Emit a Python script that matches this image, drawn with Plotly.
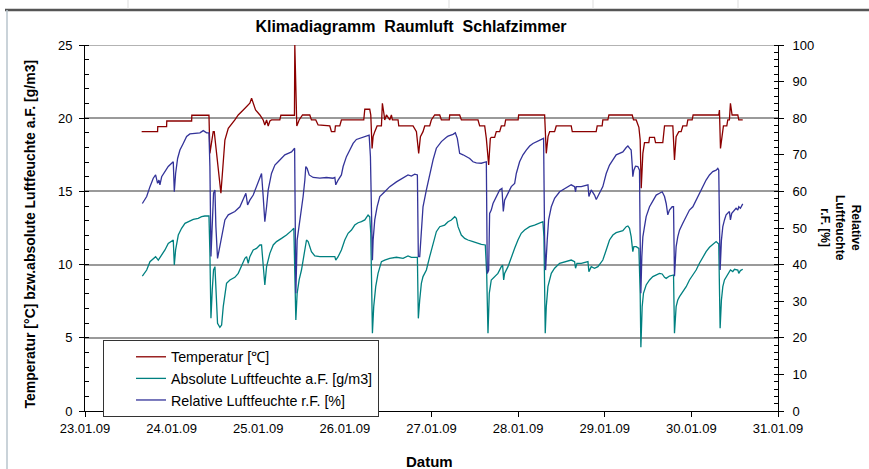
import numpy as np
import pandas as pd
import plotly.graph_objects as go

# ---------------- data (time = day of January 2009, decimal) ----------------
temp_t = [23.654, 23.838, 23.840, 23.942, 23.944, 24.231, 24.233, 24.431, 24.442, 24.480, 24.492, 24.569,
          24.615, 24.654, 24.730, 24.769, 24.827, 24.865, 24.903, 24.923, 24.942, 24.969, 25.019, 25.057,
          25.076, 25.096, 25.115, 25.134, 25.153, 25.249, 25.261, 25.418, 25.422, 25.445, 25.472, 25.511,
          25.595, 25.614, 25.664, 25.691, 25.826, 25.845, 25.884, 25.891, 25.941, 25.960, 26.218, 26.230,
          26.287, 26.299, 26.314, 26.326, 26.345, 26.372, 26.422, 26.433, 26.453, 26.460, 26.480, 26.518,
          26.537, 26.549, 26.614, 26.622, 26.787, 26.826, 26.852, 26.872, 26.902, 26.922, 26.979, 26.998,
          27.037, 27.095, 27.114, 27.205, 27.210, 27.325, 27.345, 27.537, 27.556, 27.614, 27.633, 27.644,
          27.660, 27.679, 27.690, 27.729, 27.748, 27.787, 27.806, 27.844, 27.856, 28.000, 28.006, 28.306,
          28.314, 28.325, 28.345, 28.364, 28.421, 28.440, 28.613, 28.625, 28.901, 28.913, 28.970, 28.978,
          29.036, 29.048, 29.317, 29.332, 29.363, 29.382, 29.394, 29.409, 29.421, 29.440, 29.459, 29.509,
          29.517, 29.574, 29.586, 29.670, 29.682, 29.690, 29.786, 29.805, 29.824, 29.855, 29.882, 29.901,
          29.947, 29.959, 30.009, 30.020, 30.316, 30.324, 30.336, 30.355, 30.370, 30.409, 30.420, 30.439,
          30.451, 30.470, 30.536, 30.547, 30.593]
temp_v = [19.08, 19.08, 19.42, 19.42, 19.81, 19.81, 20.20, 20.20, 17.60, 19.08, 19.08, 14.87,
          18.51, 19.31, 19.88, 20.22, 20.56, 20.79, 21.02, 21.36, 20.97, 20.56, 20.22, 19.88,
          19.54, 19.88, 19.47, 19.81, 19.88, 19.88, 20.20, 20.20, 25.00, 19.47, 19.88, 20.22,
          20.22, 19.88, 19.88, 19.54, 19.47, 19.08, 19.08, 19.47, 19.47, 19.88, 19.88, 20.61,
          20.61, 20.22, 17.94, 18.74, 19.08, 19.47, 19.47, 21.02, 20.22, 19.88, 20.22, 19.88,
          20.22, 19.88, 19.88, 19.47, 19.47, 19.08, 17.60, 18.74, 19.08, 19.47, 19.47, 19.88,
          20.22, 20.22, 19.88, 19.88, 20.22, 20.22, 19.88, 19.88, 19.47, 19.47, 18.62, 17.60,
          16.80, 18.62, 18.69, 18.69, 19.08, 19.08, 19.47, 19.47, 19.88, 19.88, 20.22, 20.22,
          18.51, 17.60, 18.74, 19.08, 19.08, 19.47, 19.47, 19.08, 19.08, 19.47, 19.47, 19.88,
          19.88, 20.22, 20.22, 19.88, 19.88, 19.47, 19.38, 18.51, 15.21, 17.60, 18.33, 18.33,
          18.69, 18.69, 18.33, 18.33, 19.08, 19.47, 19.47, 17.14, 18.74, 19.08, 19.08, 19.47,
          19.47, 19.88, 19.88, 20.22, 20.22, 20.56, 17.94, 19.08, 19.47, 19.47, 19.88, 19.88,
          21.02, 20.22, 20.22, 19.88, 19.88]

ah_t = [23.662, 23.712, 23.750, 23.788, 23.815, 23.846, 23.885, 23.923, 23.961, 24.000, 24.019, 24.031,
        24.046, 24.077, 24.115, 24.154, 24.192, 24.250, 24.307, 24.346, 24.384, 24.431, 24.442, 24.454,
        24.469, 24.484, 24.500, 24.515, 24.530, 24.557, 24.577, 24.596, 24.615, 24.634, 24.673, 24.730,
        24.769, 24.807, 24.846, 24.865, 24.884, 24.903, 24.942, 24.980, 25.019, 25.038, 25.057, 25.076,
        25.096, 25.134, 25.173, 25.211, 25.269, 25.326, 25.384, 25.411, 25.422, 25.434, 25.449, 25.472,
        25.499, 25.518, 25.538, 25.557, 25.576, 25.595, 25.614, 25.653, 25.711, 25.787, 25.864, 25.884,
        25.895, 25.922, 25.960, 25.999, 26.037, 26.076, 26.114, 26.153, 26.191, 26.230, 26.268, 26.287,
        26.299, 26.318, 26.333, 26.356, 26.383, 26.422, 26.460, 26.518, 26.595, 26.672, 26.729, 26.768,
        26.837, 26.848, 26.864, 26.883, 26.902, 26.941, 26.979, 27.018, 27.056, 27.095, 27.152, 27.191,
        27.229, 27.268, 27.287, 27.306, 27.344, 27.383, 27.421, 27.479, 27.537, 27.575, 27.621, 27.637,
        27.652, 27.667, 27.690, 27.729, 27.767, 27.806, 27.821, 27.833, 27.844, 27.883, 27.921, 27.960,
        27.998, 28.036, 28.075, 28.133, 28.190, 28.248, 28.286, 28.298, 28.313, 28.325, 28.344, 28.383,
        28.421, 28.479, 28.536, 28.613, 28.652, 28.663, 28.679, 28.729, 28.806, 28.817, 28.844, 28.882,
        28.921, 28.978, 29.017, 29.055, 29.094, 29.132, 29.171, 29.209, 29.248, 29.267, 29.286, 29.305,
        29.324, 29.336, 29.363, 29.394, 29.409, 29.417, 29.432, 29.447, 29.478, 29.517, 29.555, 29.594,
        29.632, 29.663, 29.690, 29.709, 29.747, 29.794, 29.805, 29.824, 29.843, 29.863, 29.901, 29.940,
        29.978, 30.017, 30.055, 30.093, 30.132, 30.170, 30.209, 30.247, 30.286, 30.316, 30.324, 30.332,
        30.347, 30.363, 30.382, 30.420, 30.451, 30.478, 30.497, 30.536, 30.547, 30.566, 30.593]
ah_v = [9.22, 9.63, 10.20, 10.43, 10.54, 10.31, 10.66, 11.00, 11.45, 11.57, 11.68, 9.97,
        11.00, 12.02, 12.48, 12.82, 12.93, 13.09, 13.16, 13.27, 13.32, 13.32, 10.77, 6.33,
        8.27, 9.63, 9.86, 8.04, 5.99, 5.72, 5.87, 7.13, 8.04, 8.72, 8.95, 9.13,
        9.40, 9.86, 10.43, 10.54, 10.09, 10.54, 11.00, 11.11, 11.34, 11.34, 9.86, 8.61,
        9.86, 10.77, 11.34, 11.57, 11.79, 12.02, 12.32, 12.48, 9.40, 6.22, 8.04, 8.95,
        9.63, 10.31, 11.23, 11.68, 11.57, 11.23, 10.88, 10.59, 10.54, 10.54, 10.50, 10.54,
        10.31, 10.54, 11.00, 11.68, 12.14, 12.36, 12.70, 12.86, 12.93, 13.05, 13.39, 13.27,
        12.14, 5.31, 7.13, 8.49, 9.40, 10.20, 10.31, 10.43, 10.50, 10.43, 10.59, 10.50,
        10.50, 6.33, 7.58, 8.72, 9.18, 9.63, 10.54, 11.45, 12.25, 12.59, 12.70, 12.93,
        13.05, 13.27, 13.16, 12.59, 12.02, 11.79, 11.68, 11.57, 11.45, 11.38, 11.34, 9.40,
        5.31, 8.04, 8.95, 9.18, 9.40, 9.86, 9.97, 8.95, 9.40, 9.86, 10.54, 11.11,
        11.68, 12.14, 12.36, 12.59, 12.70, 12.82, 12.93, 11.91, 5.31, 7.13, 8.49, 9.40,
        9.75, 10.09, 10.20, 10.31, 10.20, 9.75, 10.09, 10.09, 10.20, 9.52, 9.86, 9.75,
        9.86, 10.31, 11.00, 11.68, 12.02, 12.18, 12.25, 12.32, 12.59, 12.64, 12.48, 11.91,
        10.88, 11.23, 11.23, 11.11, 8.04, 4.35, 7.13, 8.04, 8.61, 8.95, 9.18, 9.29,
        9.40, 9.36, 9.13, 9.06, 9.22, 9.29, 5.31, 7.13, 7.58, 7.81, 8.15, 8.49,
        8.95, 9.29, 9.63, 10.09, 10.54, 10.88, 11.18, 11.38, 11.57, 11.41, 8.27, 5.65,
        7.58, 8.49, 8.95, 9.29, 9.63, 9.52, 9.68, 9.63, 9.40, 9.59, 9.68]

rh_t = [23.662, 23.712, 23.750, 23.788, 23.815, 23.838, 23.854, 23.865, 23.885, 23.923, 23.961, 24.000,
        24.019, 24.031, 24.046, 24.069, 24.096, 24.134, 24.173, 24.211, 24.269, 24.327, 24.365, 24.404,
        24.431, 24.442, 24.454, 24.469, 24.484, 24.500, 24.511, 24.530, 24.557, 24.584, 24.615, 24.654,
        24.730, 24.788, 24.827, 24.857, 24.877, 24.903, 24.942, 24.980, 25.019, 25.038, 25.057, 25.076,
        25.096, 25.115, 25.153, 25.192, 25.230, 25.269, 25.307, 25.346, 25.384, 25.420, 25.434, 25.449,
        25.472, 25.499, 25.518, 25.538, 25.549, 25.564, 25.588, 25.634, 25.711, 25.787, 25.864, 25.884,
        25.895, 25.922, 25.960, 25.980, 26.018, 26.057, 26.095, 26.133, 26.172, 26.210, 26.249, 26.280,
        26.295, 26.306, 26.318, 26.326, 26.345, 26.372, 26.403, 26.460, 26.518, 26.595, 26.672, 26.729,
        26.768, 26.806, 26.837, 26.848, 26.864, 26.883, 26.902, 26.941, 26.979, 27.018, 27.056, 27.114,
        27.172, 27.191, 27.248, 27.275, 27.298, 27.314, 27.325, 27.364, 27.402, 27.441, 27.479, 27.517,
        27.575, 27.633, 27.644, 27.660, 27.671, 27.690, 27.710, 27.748, 27.787, 27.813, 27.829, 27.844,
        27.883, 27.921, 27.960, 27.979, 28.017, 28.056, 28.094, 28.133, 28.171, 28.210, 28.248, 28.294,
        28.306, 28.317, 28.336, 28.352, 28.383, 28.421, 28.479, 28.536, 28.613, 28.652, 28.663, 28.671,
        28.729, 28.806, 28.817, 28.844, 28.882, 28.902, 28.921, 28.978, 29.017, 29.055, 29.094, 29.132,
        29.171, 29.209, 29.248, 29.267, 29.286, 29.305, 29.317, 29.324, 29.336, 29.355, 29.382, 29.401,
        29.409, 29.417, 29.428, 29.440, 29.459, 29.478, 29.517, 29.555, 29.594, 29.632, 29.663, 29.690,
        29.709, 29.728, 29.747, 29.778, 29.794, 29.805, 29.824, 29.843, 29.863, 29.901, 29.940, 29.978,
        30.017, 30.055, 30.093, 30.132, 30.170, 30.209, 30.247, 30.286, 30.305, 30.316, 30.324, 30.332,
        30.347, 30.363, 30.382, 30.401, 30.439, 30.451, 30.466, 30.497, 30.516, 30.536, 30.547, 30.566,
        30.586, 30.593]
rh_v = [56.7, 58.6, 61.3, 63.6, 64.5, 62.2, 63.1, 61.8, 64.0, 65.4, 66.8, 67.7,
        68.1, 59.9, 64.9, 69.0, 71.3, 73.1, 75.0, 75.7, 75.9, 76.0, 76.6, 76.0,
        76.0, 66.8, 42.2, 54.0, 59.5, 60.4, 50.4, 41.7, 44.9, 48.6, 52.2, 53.6,
        54.5, 55.8, 58.1, 59.5, 56.3, 57.6, 59.0, 61.3, 64.0, 64.9, 58.6, 51.7,
        55.8, 60.4, 64.9, 67.2, 68.1, 69.0, 70.0, 70.4, 70.8, 71.8, 32.2, 46.7,
        50.4, 54.9, 58.6, 63.1, 66.8, 66.3, 64.5, 63.8, 63.6, 63.8, 63.6, 63.8,
        61.8, 63.1, 64.5, 66.8, 69.5, 71.3, 73.1, 74.2, 74.5, 75.0, 75.1, 75.4,
        69.5, 48.6, 41.2, 46.7, 52.2, 55.8, 58.6, 59.9, 61.3, 62.6, 63.6, 64.5,
        64.2, 64.7, 64.5, 42.2, 42.2, 48.6, 55.8, 60.4, 64.9, 68.6, 71.8, 73.6,
        74.8, 75.1, 75.6, 76.0, 74.5, 72.2, 70.4, 70.0, 69.5, 69.0, 68.1, 67.8,
        67.7, 68.1, 37.6, 38.5, 54.0, 54.9, 56.7, 58.6, 60.4, 60.8, 54.5, 57.6,
        59.5, 61.3, 62.2, 64.9, 68.1, 70.0, 71.3, 72.4, 73.1, 73.6, 74.0, 74.5,
        46.7, 38.5, 46.7, 52.2, 55.8, 58.1, 59.9, 60.8, 61.8, 61.3, 59.9, 61.3,
        61.3, 61.8, 58.6, 60.4, 59.0, 57.8, 58.6, 61.3, 64.9, 67.2, 68.6, 70.0,
        70.4, 70.8, 72.0, 72.4, 71.8, 71.3, 67.2, 64.0, 65.8, 66.9, 66.8, 65.8,
        46.7, 32.2, 42.2, 47.6, 50.4, 53.1, 55.8, 57.6, 59.0, 59.5, 59.9, 58.6,
        56.7, 53.6, 54.9, 55.8, 55.8, 36.8, 44.9, 47.6, 49.4, 51.3, 53.1, 54.9,
        55.8, 57.6, 59.5, 61.3, 63.1, 64.5, 65.4, 65.8, 66.3, 65.8, 51.3, 38.5,
        46.7, 50.4, 52.2, 53.6, 54.5, 52.2, 54.0, 54.9, 55.4, 54.9, 55.8, 55.4,
        56.3, 56.6]

names = ["Temperatur [℃]", "Absolute Luftfeuchte a.F. [g/m3]", "Relative Luftfeuchte r.F. [%]"]
colors = ["#8B0000", "#008080", "#333399"]
x_ticks = ["2009-01-%02d" % d for d in range(23, 32)]


def to_time(days):
    return pd.Timestamp("2009-01-01") + pd.to_timedelta(np.array(days) - 1.0, unit="D")


FONT = "Liberation Sans, Arial, sans-serif"

fig = go.Figure()
fig.add_trace(go.Scatter(x=to_time(temp_t), y=temp_v, mode="lines", name=names[0],
                         line=dict(color=colors[0], width=1.3), yaxis="y"))
fig.add_trace(go.Scatter(x=to_time(ah_t), y=ah_v, mode="lines", name=names[1],
                         line=dict(color=colors[1], width=1.3), yaxis="y"))
fig.add_trace(go.Scatter(x=to_time(rh_t), y=rh_v, mode="lines", name=names[2],
                         line=dict(color=colors[2], width=1.3), yaxis="y2"))

# pixel helpers for plot area (l=85, r=778, t=45, b=411)
L, R, T, B = 85, 778, 45, 411
def px(x):
    return (x - L) / (R - L)
def py(y):
    return (B - y) / (B - T)

fig.update_layout(
    width=869, height=469,
    margin=dict(l=L, r=869 - R, t=T, b=469 - B),
    paper_bgcolor="white", plot_bgcolor="white",
    font=dict(family=FONT, size=13, color="black"),
    title=dict(text="<b>Klimadiagramm\u00a0 Raumluft\u00a0 Schlafzimmer</b>",
               x=411 / 869, xref="container", xanchor="center",
               y=1 - 26 / 469, yref="container", yanchor="middle",
               font=dict(family=FONT, size=16, color="black")),
    xaxis=dict(type="date", range=[x_ticks[0], x_ticks[-1]],
               tickvals=x_ticks, tickformat="%d.%m.%y",
               showgrid=False, zeroline=False,
               showline=True, linecolor="black", linewidth=1,
               ticks="outside", ticklen=5, tickcolor="black",
               tickfont=dict(family=FONT, size=13, color="black")),
    yaxis=dict(range=[0, 25], dtick=5, showgrid=True, gridcolor="#9a9a9a", gridwidth=1.5,
               zeroline=False, showline=True, linecolor="black", linewidth=1,
               ticks="outside", ticklen=5, tickcolor="black", ticklabelstandoff=4,
               minor=dict(dtick=1, ticks="inside", ticklen=4, tickcolor="black", showgrid=False),
               tickfont=dict(family=FONT, size=13, color="black")),
    yaxis2=dict(range=[0, 100], dtick=10, overlaying="y", side="right",
                showgrid=False, zeroline=False, showline=True, linecolor="black", linewidth=1,
                ticks="outside", ticklen=5, tickcolor="black", ticklabelstandoff=6,
                minor=dict(dtick=2, ticks="inside", ticklen=4, tickcolor="black", showgrid=False),
                tickfont=dict(family=FONT, size=13, color="black")),
    legend=dict(x=px(103), y=py(340), xanchor="left", yanchor="top",
                bgcolor="white", bordercolor="#333333", borderwidth=1,
                font=dict(family=FONT, size=14.3, color="black"),
                indentation=27, tracegroupgap=0),
    showlegend=True,
)

annotations = [
    dict(text="<b>Temperatur [°C] bzw.absolute Luftfeuchte a.F. [g/m3]</b>",
         x=px(29), y=py(234.5), xref="paper", yref="paper", showarrow=False,
         textangle=-90, xanchor="center", yanchor="middle",
         font=dict(family=FONT, size=14, color="black")),
    dict(text="<b>Relative<br>Luftfeuchte<br>r.F. [%]</b>",
         x=px(841), y=py(228), xref="paper", yref="paper", showarrow=False,
         textangle=90, xanchor="center", yanchor="middle",
         font=dict(family=FONT, size=12, color="black")),
    dict(text="<b>Datum</b>", x=px(429), y=py(461), xref="paper", yref="paper",
         showarrow=False, xanchor="center", yanchor="middle",
         font=dict(family=FONT, size=15, color="black")),
]
fig.update_layout(annotations=annotations)

shapes = [
    # gridline at the top of the value range
    dict(type="line", xref="paper", yref="y", x0=0, x1=1, y0=25, y1=25,
         line=dict(color="#9a9a9a", width=1.5), layer="below"),
    dict(type="line", xref="paper", yref="paper", x0=px(5), x1=px(869), y0=py(10), y1=py(10),
         line=dict(color="#555555", width=2.5)),
    dict(type="line", xref="paper", yref="paper", x0=px(7), x1=px(7), y0=py(10), y1=py(469),
         line=dict(color="#b8c4cc", width=1.5)),
]
for cx in [128, 449, 593, 738]:
    shapes.append(dict(type="line", xref="paper", yref="paper", x0=px(cx), x1=px(cx),
                       y0=py(0), y1=py(9), line=dict(color="#dddddd", width=1)))
fig.update_layout(shapes=shapes)

fig.write_html("out.html", config={"displayModeBar": False},
               post_script="document.body.style.margin='0';document.body.style.overflow='hidden';")
